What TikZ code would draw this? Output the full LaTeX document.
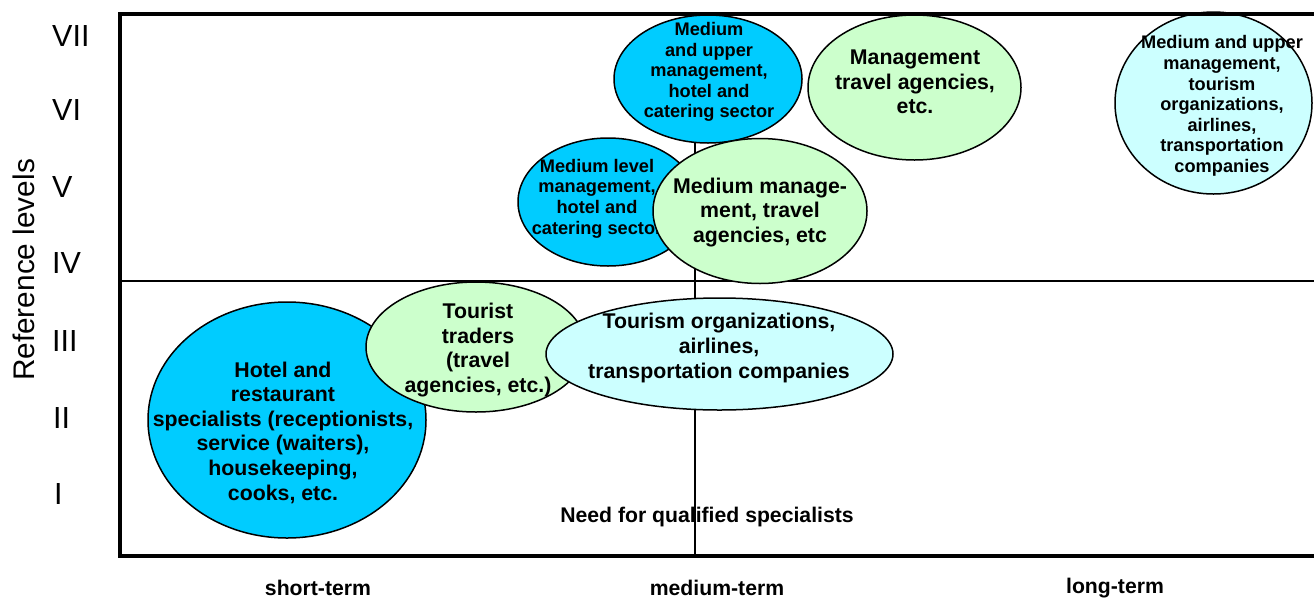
\documentclass[tikz,border=0pt]{standalone}
\usepackage{fontspec}
\setmainfont{Liberation Sans}
\usetikzlibrary{shapes.geometric}
\definecolor{cblue}{HTML}{00CCFF}
\definecolor{cgreen}{HTML}{CCFFCC}
\definecolor{ccyan}{HTML}{CCFFFF}
\tikzset{
  blob/.style={ellipse, draw=black, line width=1.5pt, inner sep=0pt},
  bigtxt/.style={align=center, inner sep=0pt, font=\fontsize{21.3}{24.6}\selectfont\bfseries},
  smalltxt/.style={align=center, inner sep=0pt, font=\fontsize{18.2}{20.6}\selectfont\bfseries},
  axtxt/.style={inner sep=0pt, font=\fontsize{21.2}{24}\selectfont\bfseries},
  lvl/.style={anchor=west, inner sep=0pt, font=\fontsize{30.5}{32}\selectfont},
  thinline/.style={line width=1.3pt},
}
\begin{document}
\begin{tikzpicture}[x=1pt,y=-1pt]
\useasboundingbox (0,0) rectangle (1314,598);
\clip (0,0) rectangle (1314,598);
\fill[white] (0,0) rectangle (1314,598);
% grid lines
\coordinate (hl) at (120,281);
\coordinate (hr) at (1330,281);
\coordinate (vt) at (695,14);
\coordinate (vb) at (695,556);
\draw[thinline] (hl) -- (hr);
\draw[thinline] (vt) -- (vb);
% ellipses
\node[blob, fill=cblue, minimum width=278pt, minimum height=236pt] (hotel) at (287,420) {};
\node[bigtxt] (hotelt) at (283,432.5) {Hotel and\\restaurant\\specialists (receptionists,\\service (waiters),\\housekeeping,\\cooks, etc.};
\node[blob, fill=cgreen, minimum width=220pt, minimum height=130pt] (trad) at (476,347) {};
\node[bigtxt] (tradt) at (478,350) {Tourist\\traders\\(travel\\agencies, etc.)};
\node[blob, fill=ccyan, minimum width=347pt, minimum height=112pt] (org) at (719.5,354) {};
\node[bigtxt] (orgt) at (719,348) {Tourism organizations,\\airlines,\\transportation companies};
\node[blob, fill=cblue, minimum width=180pt, minimum height=128pt] (mlev) at (608,202) {};
\node[smalltxt] (mlevt) at (597,198.5) {Medium level\\management,\\hotel and\\catering sector};
\node[blob, fill=cblue, minimum width=188pt, minimum height=128pt] (upper) at (708,79) {};
\node[smalltxt] (uppert) at (709,72) {Medium\\and upper\\management,\\hotel and\\catering sector};
\node[blob, fill=cgreen, minimum width=214pt, minimum height=145pt] (mmg) at (760,211) {};
\node[bigtxt] (mmgt) at (760,212.5) {Medium manage-\\ment, travel\\agencies, etc};
\node[blob, fill=cgreen, minimum width=213pt, minimum height=145pt] (mtr) at (914.5,87.5) {};
\node[bigtxt] (mtrt) at (915,82) {Management\\travel agencies,\\etc.};
\node[blob, fill=ccyan, minimum width=197pt, minimum height=182pt] (tor) at (1213.5,103) {};
\node[smalltxt] (tort) at (1222,106) {Medium and upper\\management,\\tourism\\organizations,\\airlines,\\transportation\\companies};
% frame
\coordinate (f1) at (120,14);
\coordinate (f2) at (1340,556);
\draw[line width=4pt] (f1) rectangle (f2);
% labels
\node[lvl] (l7) at (52,36) {VII};
\node[lvl] (l6) at (52,110) {VI};
\node[lvl] (l5) at (52,187) {V};
\node[lvl] (l4) at (52,263) {IV};
\node[lvl] (l3) at (52,341) {III};
\node[lvl] (l2) at (53,418) {II};
\node[lvl] (l1) at (54,494) {I};
\node[inner sep=0pt, rotate=90, font=\fontsize{29.8}{31}\selectfont] (ref) at (24,270) {Reference levels};
\node[axtxt] (need) at (707,517) {Need for qualified specialists};
\node[axtxt] (st) at (318,588) {short-term};
\node[axtxt] (mt) at (717,588) {medium-term};
\node[axtxt] (lt) at (1115,588) {long-term};
\end{tikzpicture}
\end{document}
